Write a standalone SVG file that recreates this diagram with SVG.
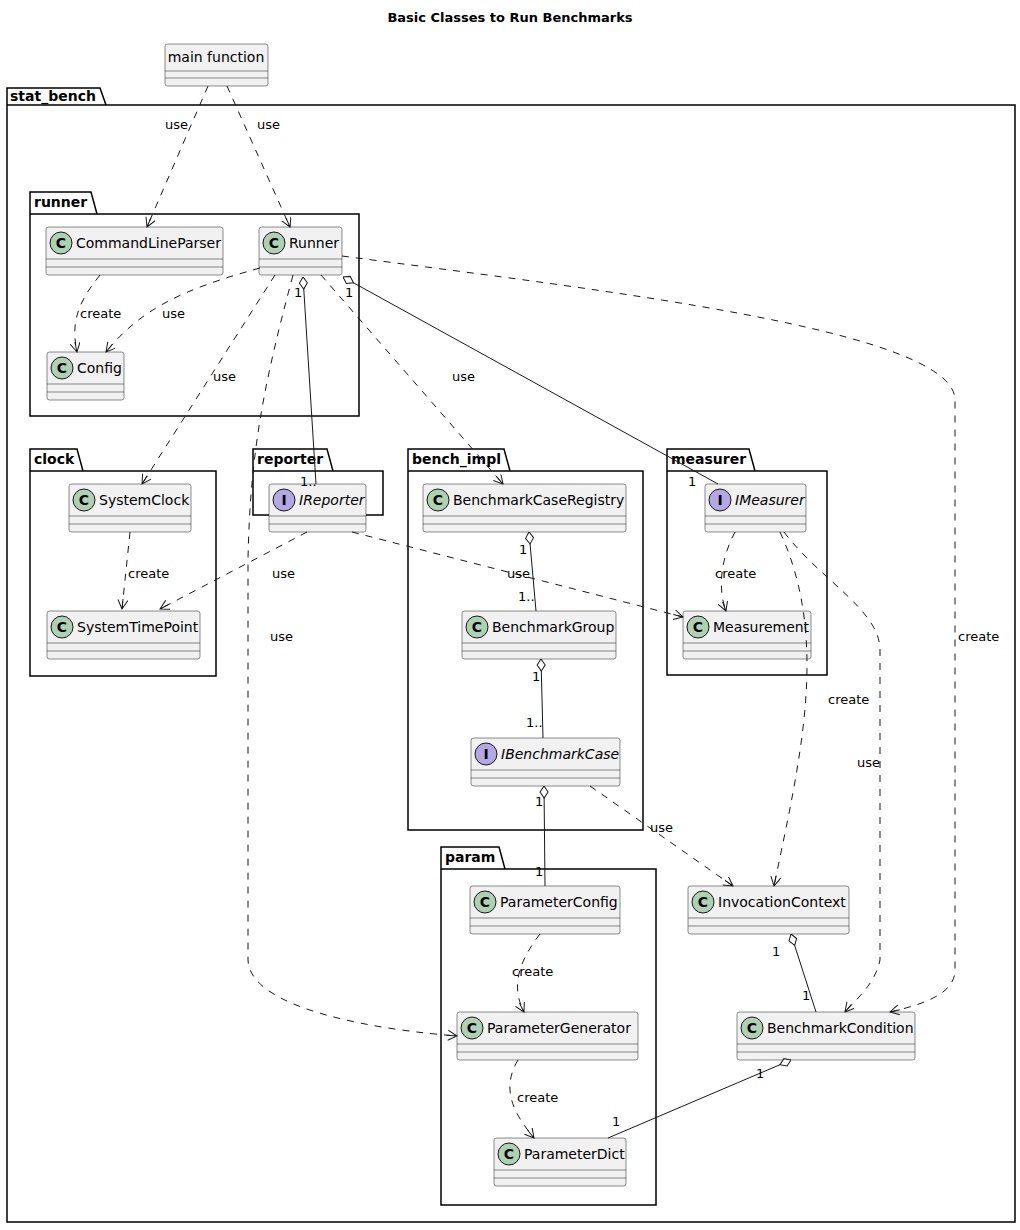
<svg xmlns="http://www.w3.org/2000/svg" width="1020" height="1230" viewBox="0 0 1020 1230">
<style>
text{font-family:"DejaVu Sans","Liberation Sans",sans-serif;fill:#000}
.t{font-size:13px;font-weight:bold}
.pk{font-size:14px;font-weight:bold}
.cn{font-size:14px}
.it{font-size:14px;font-style:italic}
.lb{font-size:13px}
.box{fill:#F1F1F1;stroke:#181818;stroke-width:0.5}
.pkg{fill:none;stroke:#000;stroke-width:1.5}
.sep{stroke:#181818;stroke-width:0.5}
.cc{fill:#ADD1B2;stroke:#181818;stroke-width:1}
.ci{fill:#B4A7E5;stroke:#181818;stroke-width:1}
.cl{font-size:14px;font-weight:bold;text-anchor:middle}
.d{fill:none;stroke:#181818;stroke-width:1;stroke-dasharray:7,7;marker-end:url(#ar)}
.s{fill:none;stroke:#181818;stroke-width:1;marker-start:url(#dm)}
</style>
<defs>
<marker id="ar" markerWidth="12" markerHeight="12" refX="10" refY="5" orient="auto" markerUnits="userSpaceOnUse"><path d="M1,0 L10,5 L1,10 M0,5 L10,5" fill="none" stroke="#181818" stroke-width="1"/></marker>
<marker id="dm" markerWidth="14" markerHeight="12" refX="0" refY="5" orient="auto" markerUnits="userSpaceOnUse"><path d="M0,5 L6,1 L12,5 L6,9 Z" fill="#fff" stroke="#181818" stroke-width="1"/></marker>
</defs>
<text class="t" x="510" y="22" text-anchor="middle">Basic Classes to Run Benchmarks</text>

<g id="main_function"><rect class="box" x="165" y="44" width="103" height="42" rx="2.5"/><text class="cn" x="216" y="62" text-anchor="middle">main function</text><line class="sep" x1="165" y1="71" x2="268" y2="71"/><line class="sep" x1="165" y1="78" x2="268" y2="78"/></g>

<g id="stat_bench"><path class="pkg" d="M7,88 H100 L106,105 H1015 V1222 H7 Z M7,105 H106"/><text class="pk" x="10" y="101">stat_bench</text></g>
<g id="pkg_runner"><path class="pkg" d="M30,192 H91 L97,214 H359 V416 H30 Z M30,214 H97"/><text class="pk" x="34" y="207">runner</text></g>
<g id="pkg_clock"><path class="pkg" d="M30,449 H77 L83,471 H216 V676 H30 Z M30,471 H83"/><text class="pk" x="34" y="464">clock</text></g>
<g id="pkg_reporter"><path class="pkg" d="M253,449 H327 L333,471 H383 V515 H253 Z M253,471 H333"/><text class="pk" x="257" y="464">reporter</text></g>
<g id="pkg_bench_impl"><path class="pkg" d="M408,449 H504 L510,471 H643 V830 H408 Z M408,471 H510"/><text class="pk" x="412" y="464">bench_impl</text></g>
<g id="pkg_measurer"><path class="pkg" d="M667,449 H749 L755,471 H827 V675 H667 Z M667,471 H755"/><text class="pk" x="671" y="464">measurer</text></g>
<g id="pkg_param"><path class="pkg" d="M441,847 H499 L505,869 H656 V1205 H441 Z M441,869 H505"/><text class="pk" x="445" y="862">param</text></g>

<g id="CommandLineParser"><rect class="box" x="46" y="227" width="177" height="48" rx="2.5"/><circle class="cc" cx="61" cy="243" r="11"/><text class="cl" x="61" y="248">C</text><text class="cn" x="76" y="248">CommandLineParser</text><line class="sep" x1="46" y1="259" x2="223" y2="259"/><line class="sep" x1="46" y1="267" x2="223" y2="267"/></g>
<g id="Runner"><rect class="box" x="259" y="227" width="83" height="48" rx="2.5"/><circle class="cc" cx="274" cy="243" r="11"/><text class="cl" x="274" y="248">C</text><text class="cn" x="289" y="248">Runner</text><line class="sep" x1="259" y1="259" x2="342" y2="259"/><line class="sep" x1="259" y1="267" x2="342" y2="267"/></g>
<g id="Config"><rect class="box" x="47" y="352" width="77" height="48" rx="2.5"/><circle class="cc" cx="62" cy="368" r="11"/><text class="cl" x="62" y="373">C</text><text class="cn" x="77" y="373">Config</text><line class="sep" x1="47" y1="384" x2="124" y2="384"/><line class="sep" x1="47" y1="392" x2="124" y2="392"/></g>
<g id="SystemClock"><rect class="box" x="69" y="484" width="122" height="48" rx="2.5"/><circle class="cc" cx="84" cy="500" r="11"/><text class="cl" x="84" y="505">C</text><text class="cn" x="99" y="505">SystemClock</text><line class="sep" x1="69" y1="516" x2="191" y2="516"/><line class="sep" x1="69" y1="524" x2="191" y2="524"/></g>
<g id="SystemTimePoint"><rect class="box" x="47" y="611" width="153" height="48" rx="2.5"/><circle class="cc" cx="62" cy="627" r="11"/><text class="cl" x="62" y="632">C</text><text class="cn" x="77" y="632">SystemTimePoint</text><line class="sep" x1="47" y1="643" x2="200" y2="643"/><line class="sep" x1="47" y1="651" x2="200" y2="651"/></g>
<g id="IReporter"><rect class="box" x="269" y="484" width="97" height="48" rx="2.5"/><circle class="ci" cx="284" cy="500" r="11"/><text class="cl" x="284" y="505">I</text><text class="it" x="299" y="505">IReporter</text><line class="sep" x1="269" y1="516" x2="366" y2="516"/><line class="sep" x1="269" y1="524" x2="366" y2="524"/></g>
<g id="BenchmarkCaseRegistry"><rect class="box" x="423" y="484" width="203" height="48" rx="2.5"/><circle class="cc" cx="438" cy="500" r="11"/><text class="cl" x="438" y="505">C</text><text class="cn" x="453" y="505">BenchmarkCaseRegistry</text><line class="sep" x1="423" y1="516" x2="626" y2="516"/><line class="sep" x1="423" y1="524" x2="626" y2="524"/></g>
<g id="BenchmarkGroup"><rect class="box" x="462" y="611" width="154" height="48" rx="2.5"/><circle class="cc" cx="477" cy="627" r="11"/><text class="cl" x="477" y="632">C</text><text class="cn" x="492" y="632">BenchmarkGroup</text><line class="sep" x1="462" y1="643" x2="616" y2="643"/><line class="sep" x1="462" y1="651" x2="616" y2="651"/></g>
<g id="IBenchmarkCase"><rect class="box" x="471" y="738" width="149" height="48" rx="2.5"/><circle class="ci" cx="486" cy="754" r="11"/><text class="cl" x="486" y="759">I</text><text class="it" x="501" y="759">IBenchmarkCase</text><line class="sep" x1="471" y1="770" x2="620" y2="770"/><line class="sep" x1="471" y1="778" x2="620" y2="778"/></g>
<g id="IMeasurer"><rect class="box" x="705" y="484" width="101" height="48" rx="2.5"/><circle class="ci" cx="720" cy="500" r="11"/><text class="cl" x="720" y="505">I</text><text class="it" x="735" y="505">IMeasurer</text><line class="sep" x1="705" y1="516" x2="806" y2="516"/><line class="sep" x1="705" y1="524" x2="806" y2="524"/></g>
<g id="Measurement"><rect class="box" x="683" y="611" width="128" height="48" rx="2.5"/><circle class="cc" cx="698" cy="627" r="11"/><text class="cl" x="698" y="632">C</text><text class="cn" x="713" y="632">Measurement</text><line class="sep" x1="683" y1="643" x2="811" y2="643"/><line class="sep" x1="683" y1="651" x2="811" y2="651"/></g>
<g id="ParameterConfig"><rect class="box" x="470" y="886" width="150" height="48" rx="2.5"/><circle class="cc" cx="485" cy="902" r="11"/><text class="cl" x="485" y="907">C</text><text class="cn" x="500" y="907">ParameterConfig</text><line class="sep" x1="470" y1="918" x2="620" y2="918"/><line class="sep" x1="470" y1="926" x2="620" y2="926"/></g>
<g id="ParameterGenerator"><rect class="box" x="457" y="1012" width="181" height="48" rx="2.5"/><circle class="cc" cx="472" cy="1028" r="11"/><text class="cl" x="472" y="1033">C</text><text class="cn" x="487" y="1033">ParameterGenerator</text><line class="sep" x1="457" y1="1044" x2="638" y2="1044"/><line class="sep" x1="457" y1="1052" x2="638" y2="1052"/></g>
<g id="ParameterDict"><rect class="box" x="494" y="1138" width="132" height="48" rx="2.5"/><circle class="cc" cx="509" cy="1154" r="11"/><text class="cl" x="509" y="1159">C</text><text class="cn" x="524" y="1159">ParameterDict</text><line class="sep" x1="494" y1="1170" x2="626" y2="1170"/><line class="sep" x1="494" y1="1178" x2="626" y2="1178"/></g>
<g id="InvocationContext"><rect class="box" x="688" y="886" width="161" height="48" rx="2.5"/><circle class="cc" cx="703" cy="902" r="11"/><text class="cl" x="703" y="907">C</text><text class="cn" x="718" y="907">InvocationContext</text><line class="sep" x1="688" y1="918" x2="849" y2="918"/><line class="sep" x1="688" y1="926" x2="849" y2="926"/></g>
<g id="BenchmarkCondition"><rect class="box" x="737" y="1012" width="178" height="48" rx="2.5"/><circle class="cc" cx="752" cy="1028" r="11"/><text class="cl" x="752" y="1033">C</text><text class="cn" x="767" y="1033">BenchmarkCondition</text><line class="sep" x1="737" y1="1044" x2="915" y2="1044"/><line class="sep" x1="737" y1="1052" x2="915" y2="1052"/></g>

<g id="connectors">
<path class="d" d="M208,86 L147,227"/><text class="lb" x="165" y="129">use</text>
<path class="d" d="M227,86 L290,227"/><text class="lb" x="257" y="129">use</text>
<path class="d" d="M100,275 C80,300 70,320 77,352"/><text class="lb" x="80" y="318">create</text>
<path class="d" d="M260,268 C180,290 140,310 106,352"/><text class="lb" x="162" y="318">use</text>
<path class="d" d="M275,275 L142,484"/><text class="lb" x="213" y="381">use</text>
<path class="d" d="M293,275 C265,380 250,450 248,560 L248,960 C250,1010 380,1030 457,1036"/><text class="lb" x="270" y="641">use</text>
<path class="s" d="M303,277 L316,484"/><text class="lb" x="294" y="297">1</text><text class="lb" x="300" y="486">1..</text>
<path class="s" d="M343,277 L718,484"/><text class="lb" x="345" y="297">1</text><text class="lb" x="688" y="486">1</text>
<path class="d" d="M321,275 L503,484"/><text class="lb" x="452" y="381">use</text>
<path class="d" d="M342,256 C600,290 955,330 955,400 L955,970 C955,995 920,1005 890,1012"/><text class="lb" x="958" y="641">create</text>
<path class="s" d="M529,532 L536,611"/><text class="lb" x="519" y="554">1</text><text class="lb" x="518" y="601">1..</text>
<path class="s" d="M541,659 L543,738"/><text class="lb" x="532" y="681">1</text><text class="lb" x="526" y="727">1..</text>
<path class="d" d="M307,532 L160,609"/><text class="lb" x="272" y="578">use</text>
<path class="d" d="M352,532 L683,617"/><text class="lb" x="507" y="578">use</text>
<path class="d" d="M130,532 L122,609"/><text class="lb" x="128" y="578">create</text>
<path class="d" d="M735,532 C720,560 718,590 726,611"/><text class="lb" x="715" y="578">create</text>
<path class="d" d="M780,532 C830,640 800,760 774,886"/><text class="lb" x="828" y="704">create</text>
<path class="d" d="M784,532 C820,580 880,610 880,650 L880,960 C875,985 855,1000 845,1012"/><text class="lb" x="857" y="767">use</text>
<path class="d" d="M590,786 L733,886"/><text class="lb" x="650" y="832">use</text>
<path class="s" d="M544,786 L545,886"/><text class="lb" x="535" y="806">1</text><text class="lb" x="535" y="876">1</text>
<path class="d" d="M540,934 C520,960 510,985 524,1012"/><text class="lb" x="512" y="976">create</text>
<path class="d" d="M518,1060 C500,1090 515,1115 534,1138"/><text class="lb" x="517" y="1102">create</text>
<path class="s" d="M791,934 L816,1012"/><text class="lb" x="772" y="956">1</text><text class="lb" x="802" y="1000">1</text>
<path class="s" d="M791,1060 L608,1138"/><text class="lb" x="756" y="1078">1</text><text class="lb" x="612" y="1126">1</text>
</g>
</svg>
